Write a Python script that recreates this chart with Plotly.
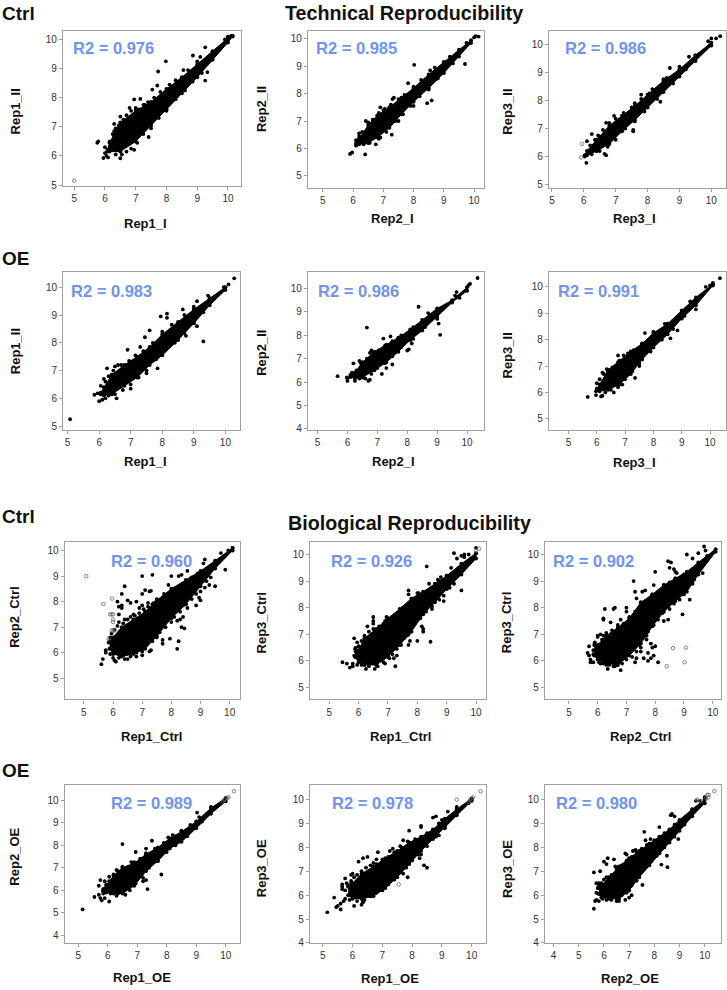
import plotly.graph_objects as go

W, H = 727, 990
FONT = "Liberation Sans"

x_labels = ["Rep1_I", "Rep2_I", "Rep3_I", "Rep1_I", "Rep2_I", "Rep3_I",
            "Rep1_Ctrl", "Rep1_Ctrl", "Rep2_Ctrl", "Rep1_OE", "Rep1_OE", "Rep2_OE"]
y_labels = ["Rep1_II", "Rep2_II", "Rep3_II", "Rep1_II", "Rep2_II", "Rep3_II",
            "Rep2_Ctrl", "Rep3_Ctrl", "Rep3_Ctrl", "Rep2_OE", "Rep3_OE", "Rep3_OE"]
r2_values = ["0.976", "0.985", "0.986", "0.983", "0.986", "0.991",
             "0.960", "0.926", "0.902", "0.989", "0.978", "0.980"]

# Dense core of each scatter: upper/lower limit of the black mass at stations along x
core_x = [
    [6.08, 6.15, 6.5, 7, 7.5, 8, 8.5, 9, 9.5, 10, 10.15],
    [6.1, 6.2, 6.5, 6.8, 7.2, 7.6, 8, 8.5, 9, 9.5, 9.9],
    [6.03, 6.1, 6.4, 6.8, 7.2, 7.6, 8, 8.5, 9, 9.5, 10],
    [6.05, 6.15, 6.4, 6.8, 7.2, 7.6, 8, 8.5, 9, 9.5, 10],
    [6.1, 6.25, 6.5, 6.9, 7.3, 7.7, 8.1, 8.5, 9, 9.5, 10],
    [6.02, 6.1, 6.4, 6.8, 7.2, 7.6, 8, 8.5, 9, 9.5, 10.1],
    [5.88, 6.0, 6.3, 6.7, 7.1, 7.5, 8, 8.5, 9, 9.5, 10.1],
    [5.88, 6.0, 6.2, 6.6, 7, 7.4, 7.8, 8.2, 8.6, 9, 9.5, 10],
    [5.88, 6.0, 6.3, 6.7, 7.1, 7.5, 7.9, 8.3, 8.7, 9.1, 9.5, 10.1],
    [5.85, 5.95, 6.2, 6.5, 6.9, 7.3, 7.7, 8.1, 8.5, 9, 9.5, 10],
    [5.85, 6.0, 6.3, 6.7, 7.1, 7.5, 7.9, 8.3, 8.7, 9.1, 9.5, 10],
    [5.8, 5.9, 6.2, 6.6, 7, 7.4, 7.8, 8.2, 8.6, 9, 9.5, 10],
]
core_hi = [
    [6.2, 6.45, 7.15, 7.55, 7.85, 8.3, 8.7, 9.15, 9.6, 10.05, 10.12],
    [6.2, 6.35, 6.85, 7.2, 7.5, 7.85, 8.2, 8.7, 9.15, 9.6, 9.95],
    [6.05, 6.2, 6.6, 7.1, 7.45, 7.8, 8.2, 8.7, 9.1, 9.6, 10.05],
    [6.2, 6.4, 6.85, 7.2, 7.5, 7.85, 8.3, 8.75, 9.2, 9.6, 10.0],
    [6.3, 6.4, 6.85, 7.3, 7.6, 7.9, 8.25, 8.65, 9.15, 9.5, 10.05],
    [6.12, 6.3, 6.85, 7.2, 7.55, 7.85, 8.25, 8.6, 9.1, 9.6, 10.1],
    [6.45, 6.6, 7.0, 7.3, 7.6, 8.05, 8.5, 8.85, 9.2, 9.6, 10.1],
    [6.45, 6.4, 6.85, 7.2, 7.6, 7.95, 8.35, 8.6, 8.9, 9.2, 9.65, 10.05],
    [6.6, 6.6, 6.95, 7.25, 7.6, 8.2, 8.5, 8.85, 9.1, 9.35, 9.7, 10.2],
    [6.05, 6.2, 6.65, 7.0, 7.2, 7.6, 7.9, 8.3, 8.6, 9.05, 9.65, 10.1],
    [6.35, 6.5, 6.9, 7.2, 7.55, 7.85, 8.2, 8.45, 8.75, 9.2, 9.6, 10.05],
    [6.3, 6.4, 6.75, 7.2, 7.55, 7.85, 8.15, 8.45, 8.75, 9.15, 9.6, 10.0],
]
core_lo = [
    [6.15, 6.15, 6.15, 6.5, 7.05, 7.6, 8.15, 8.7, 9.3, 9.9, 10.1],
    [6.12, 6.15, 6.2, 6.4, 6.75, 7.25, 7.7, 8.2, 8.75, 9.35, 9.85],
    [6.0, 6.05, 6.2, 6.45, 6.9, 7.3, 7.75, 8.3, 8.85, 9.4, 9.95],
    [6.15, 6.1, 6.15, 6.45, 6.75, 7.2, 7.55, 8.1, 8.7, 9.35, 9.9],
    [6.22, 6.15, 6.2, 6.5, 6.85, 7.3, 7.8, 8.2, 8.8, 9.4, 9.9],
    [6.08, 6.05, 6.1, 6.3, 6.7, 7.25, 7.7, 8.2, 8.8, 9.3, 10.05],
    [6.15, 5.95, 5.85, 5.95, 6.15, 6.65, 7.35, 7.9, 8.6, 9.3, 10.0],
    [6.15, 5.95, 5.85, 5.85, 6.15, 6.6, 7.1, 7.75, 8.2, 8.7, 9.25, 9.85],
    [6.2, 6.05, 5.9, 5.85, 6.2, 6.65, 7.3, 7.85, 8.25, 8.6, 9.25, 10.1],
    [5.95, 5.9, 5.85, 5.85, 6.2, 6.85, 7.3, 7.85, 8.15, 8.75, 9.4, 9.95],
    [6.0, 5.85, 5.85, 5.95, 6.3, 6.75, 7.3, 7.85, 8.35, 8.85, 9.35, 9.95],
    [6.05, 5.9, 5.85, 5.85, 6.2, 6.75, 7.25, 7.75, 8.2, 8.7, 9.3, 9.85],
]

# Individually visible points, (x, y)
points = [
    [(5.75,6.45),(5.78,6.5),(5.95,5.93),(6.0,6.1),(6.05,6.0),(6.1,5.95),(6.0,6.3),(6.15,6.5),(6.3,6.85),(6.5,7.35),
     (6.3,7.1),(6.5,5.92),(6.95,6.21),(7.42,6.65),(6.95,7.94),(7.15,7.96),(7.54,8.28),(7.73,8.9),(7.98,9.25),(7.7,8.42),
     (8.86,9.45),(9.26,8.59),(9.33,8.88),(9.26,9.73),(9.1,9.4),(8.55,8.95),(7.3,7.75),(6.8,7.65),(10.0,10.1),(10.1,10.12),(9.9,10.0)],
    [(5.9,5.8),(5.97,5.85),(6.4,5.78),(6.1,6.1),(6.1,6.3),(6.2,6.55),(6.42,7.0),(6.6,6.9),(6.75,6.15),(7.28,6.5),
     (6.9,6.4),(6.9,7.5),(7.0,7.4),(7.35,7.85),(7.3,7.8),(7.82,8.38),(8.02,9.05),(8.45,7.65),(8.6,7.75),(8.55,8.85),
     (9.7,9.08),(9.75,9.85),(10.0,10.05),(10.15,10.08),(10.05,10.1),(7.5,7.0),(8.0,7.55)],
    [(6.08,5.78),(6.1,6.55),(6.25,6.8),(6.4,6.2),(6.65,6.1),(6.7,6.05),(6.7,7.2),(6.95,7.45),(7.55,6.9),(7.55,6.95),
     (8.4,7.95),(8.05,8.25),(8.5,8.75),(8.7,9.15),(9.0,9.2),(9.3,9.55),(9.9,10.1),(10.0,10.2),(10.15,10.2),(10.28,10.28),
     (9.95,9.95),(7.6,7.9),(7.8,8.2)],
    [(5.08,5.25),(5.85,6.13),(5.95,6.18),(6.0,5.9),(6.1,5.95),(6.2,6.0),(6.05,6.45),(6.15,6.7),(6.25,7.08),(6.5,7.15),
     (6.6,7.2),(6.55,6.0),(6.9,7.75),(7.3,7.85),(7.45,8.2),(7.6,8.45),(7.95,8.95),(8.15,9.05),(8.15,8.9),(8.65,9.2),
     (9.3,8.05),(9.1,8.6),(8.75,8.25),(7.85,7.08),(9.1,9.5),(9.45,9.7),(10.1,10.1),(10.28,10.32),(9.95,10.0),(7.5,6.9),(7.0,6.35)],
    [(5.67,6.25),(5.98,6.2),(6.0,6.05),(6.0,6.15),(6.25,6.05),(6.15,6.4),(6.2,6.8),(6.4,6.9),(6.65,8.33),(6.7,6.05),
     (6.75,6.1),(6.6,6.15),(7.15,6.35),(7.5,6.75),(7.2,7.86),(7.44,7.95),(8.38,9.22),(9.05,8.5),(9.1,8.02),(8.0,7.35),
     (8.05,7.4),(8.15,7.65),(9.65,9.85),(9.6,9.7),(9.75,9.6),(10.1,10.2),(10.05,10.15),(10.35,10.45),(7.3,6.6),(6.8,7.35),(6.75,7.25)],
    [(5.68,5.83),(5.97,5.9),(6.0,6.15),(5.97,6.05),(6.0,6.35),(6.15,5.85),(6.2,5.88),(6.2,6.75),(6.35,6.88),(6.6,6.0),
     (6.9,6.3),(6.95,7.4),(6.75,7.4),(7.1,7.48),(7.7,8.25),(8.85,8.35),(8.6,8.05),(9.5,9.15),(9.3,9.45),(9.7,9.65),
     (10,10.05),(9.85,10.0),(10.1,10.15),(10.35,10.33),(7.35,6.55),(7.1,6.7),(7.5,7.0)],
    [(5.6,5.55),(5.65,5.75),(5.75,6.0),(5.75,6.1),(5.9,5.95),(6.1,5.65),(6.05,5.7),(6.4,5.75),(6.5,5.75),(6.8,5.85),
     (7.0,5.9),(7.0,6.05),(7.25,6.05),(7.3,6.1),(7.7,6.35),(7.7,6.5),(7.95,6.55),(8.2,6.15),(8.25,6.45),(8.45,6.95),
     (8.35,7.0),(8.2,7.25),(8.3,7.3),(8.4,7.4),(6.4,8.6),(6.3,8.3),(6.15,8.0),(6.2,7.8),(6.3,7.85),(6.5,8.05),
     (6.6,7.95),(6.7,7.5),(6.4,7.3),(6.2,7.5),(6.3,7.75),(6.8,8.0),(7.0,9.0),(7.35,9.05),(7.0,8.3),(7.1,8.45),
     (7.25,8.4),(7.3,8.42),(7.2,7.95),(7.35,7.9),(7.0,7.85),(6.9,7.75),(7.5,8.1),(7.75,8.3),(7.9,8.65),(8.0,9.0),
     (8.25,9.0),(8.35,9.05),(8.55,9.2),(9.15,9.65),(9.5,8.6),(9.3,8.65),(9.2,8.8),(9.85,9.25),(9.0,8.05),(8.85,7.85),
     (8.95,8.15),(9.1,9.5),(9.7,9.9),(9.95,10),(10.1,10.1)],
    [(5.45,5.95),(5.6,5.9),(5.7,5.75),(5.8,5.8),(5.8,5.9),(5.95,5.85),(6.25,5.7),(6.55,5.7),(7.25,5.8),(6.9,5.9),
     (7.2,6.1),(7.3,6.2),(7.7,6.6),(7.75,6.75),(8.0,6.75),(8.45,6.72),(8.2,7.1),(8.2,7.2),(8.15,7.3),(7.65,6.95),
     (5.85,6.85),(5.95,6.7),(5.9,6.5),(6.3,7.3),(6.5,7.65),(6.5,7.5),(6.5,7.4),(6.9,7.5),(6.95,7.65),(7.0,7.5),
     (7.2,7.65),(7.7,8.65),(7.7,8.5),(7.9,8.2),(8.0,8.55),(8.05,8.55),(8.32,9.55),(8.4,8.9),(8.7,9.05),(8.8,9.15),
     (9.0,9.2),(9.15,9.5),(9.25,10.05),(9.15,9.25),(9.35,9.85),(9.5,9.95),(9.6,10.0),(9.6,9.9),(9.75,10.0),(10,10.25),
     (9.5,8.65),(9.25,8.9),(8.9,8.25),(8.9,8.45),(8.5,7.95)],
    [(5.65,6.3),(5.7,6.55),(5.7,6.2),(5.75,6.05),(5.75,5.95),(5.85,5.95),(5.85,6.25),(6.1,5.9),(6.2,5.9),(6.4,5.85),
     (6.35,5.7),(6.8,5.65),(6.6,5.8),(7.3,5.95),(7.35,6.1),(7.5,6.35),(7.6,6.1),(7.75,6.0),(7.85,6.1),(8.1,5.95),
     (7.95,6.2),(7.75,6.3),(7.9,6.5),(8.0,6.55),(7.85,6.65),(7.7,6.8),(7.5,6.5),(7.7,6.95),(6.1,7.0),(6.2,6.95),
     (6.0,6.9),(6.25,7.95),(6.2,7.6),(6.2,7.55),(6.45,7.45),(6.6,8.0),(6.55,7.95),(6.8,7.55),(7.0,8.0),(7.0,7.85),
     (7.25,9.0),(7.3,8.6),(7.55,8.6),(7.65,8.65),(7.35,8.35),(7.4,7.9),(7.95,8.85),(8.0,9.35),(8.45,9.75),(8.55,9.7),
     (8.5,9.5),(8.7,9.35),(8.75,9.3),(8.65,9.45),(9.1,10.0),(9.5,10.05),(9.3,9.85),(9.7,10.3),(9.8,9.95),(9.75,10.15),
     (9.2,8.3),(8.95,7.75),(8.3,7.5),(8.45,7.55),(9.65,9.3),(9.35,9.05)],
    [(5.15,5.15),(5.55,5.7),(5.7,5.8),(5.75,5.65),(5.8,5.55),(5.9,5.65),(5.85,5.85),(5.85,6.0),(6.05,5.5),(6.3,5.75),
     (5.7,6.2),(5.75,6.45),(5.9,6.4),(6.05,6.6),(6.3,6.9),(6.5,8.05),(6.95,7.7),(6.8,7.25),(7.3,7.85),(7.5,8.2),
     (7.35,6.05),(7.3,6.45),(7.2,6.4),(7.2,6.55),(7.82,6.7),(8.05,8.35),(8.5,8.65),(9.03,9.45),(9.1,9.25),(9.5,9.7),(8.2,8.45)],
    [(5.15,5.28),(5.38,5.9),(5.45,5.5),(5.5,5.55),(5.6,5.4),(5.6,5.65),(5.7,5.75),(5.75,5.85),(5.65,6.45),(5.65,6.35),
     (5.65,6.25),(5.8,6.5),(5.75,6.7),(5.95,6.5),(6.05,5.55),(6.3,5.6),(6.35,5.75),(6.35,5.7),(5.95,6.85),(6.0,6.9),
     (6.2,7.4),(6.35,7.55),(6.5,7.6),(6.7,7.35),(6.8,7.5),(6.85,7.8),(7.25,7.85),(7.35,7.95),(7.6,8.05),(7.7,8.3),
     (7.9,8.7),(8.3,8.9),(8.3,8.85),(7.7,6.9),(7.85,6.75),(7.4,6.95),(7.15,6.75),(8.25,7.55),(8.4,7.25),(8.5,7.15),
     (8.3,7.7),(9.0,9.15),(8.7,9.25),(8.8,9.3),(9.2,9.5),(9.5,9.7),(9.9,9.85),(10.0,10.0),(8.9,8.5)],
    [(5.6,5.43),(5.65,5.75),(5.7,5.8),(5.8,5.75),(5.6,6.95),(5.8,6.5),(5.85,7.0),(5.7,6.5),(5.75,6.3),(5.7,6.1),
     (6.0,7.4),(6.15,7.55),(6.1,7.3),(6.4,7.5),(6.45,7.2),(6.9,7.7),(6.85,7.75),(7.15,7.85),(7.25,7.9),(7.6,8.65),
     (7.65,8.3),(7.85,8.35),(8.2,8.85),(8.7,9.4),(8.65,9.35),(8.8,9.3),(8.95,8.35),(8.52,7.17),(8.28,7.28),(8.5,7.65),
     (7.53,6.43),(7.1,6.0),(6.5,5.75),(6.6,5.75),(6.85,5.8),(7.0,5.9),(9.65,9.95),(10.0,10.1),(9.8,9.95)],
]

# Points hugging the edge of the dense core, (x, y)
edge_points = [
    [(6.25,6.75),(6.3,6.65),(6.35,6.95),(6.45,7.05),(6.6,7.25),(6.7,7.4),(6.85,7.55),(7.0,7.65),(7.1,7.6),(7.25,7.75),(7.4,7.85),(7.6,8.0),(7.8,8.2),(8.1,8.45),(8.3,8.6),(8.7,8.95),(9.0,9.25),(6.35,6.05),(6.55,6.05),(6.7,6.15),(6.85,6.25),(7.05,6.45),(7.25,6.75),(7.5,6.95),(7.75,7.3),(8.0,7.55),(8.3,7.95),(8.6,8.25),(8.85,8.55),(9.15,8.85),(9.4,9.25)],
    [(6.2,6.45),(6.3,6.6),(6.5,6.95),(6.65,7.05),(6.85,7.3),(7.05,7.45),(7.25,7.6),(7.5,7.8),(7.7,7.95),(8.0,8.25),(8.25,8.5),(8.7,8.95),(9.2,9.35),(6.35,6.15),(6.55,6.2),(6.85,6.35),(7.1,6.6),(7.4,7.0),(7.65,7.25),(7.9,7.55),(8.2,7.9),(8.5,8.15),(8.8,8.55),(9.3,9.1)],
    [(6.2,6.4),(6.35,6.6),(6.45,6.75),(6.6,6.95),(6.8,7.2),(7.0,7.35),(7.25,7.55),(7.5,7.75),(7.8,8.05),(8.15,8.4),(8.6,8.8),(6.25,6.08),(6.5,6.2),(6.75,6.35),(7.0,6.6),(7.3,7.0),(7.6,7.25),(7.9,7.6),(8.3,8.05),(8.8,8.6),(9.2,9.1)],
    [(6.2,6.6),(6.3,6.8),(6.45,7.0),(6.7,7.2),(6.95,7.35),(7.15,7.55),(7.4,7.7),(7.7,8.0),(8.0,8.4),(8.3,8.65),(8.7,9.0),(9.0,9.3),(6.3,6.1),(6.5,6.15),(6.75,6.3),(7.0,6.5),(7.25,6.75),(7.5,7.0),(7.8,7.4),(8.1,7.75),(8.4,8.0),(8.7,8.35),(9.0,8.7),(9.3,9.1)],
    [(6.3,6.5),(6.45,6.8),(6.65,7.0),(6.85,7.2),(7.05,7.35),(7.25,7.55),(7.5,7.75),(7.8,8.0),(8.2,8.35),(8.7,8.95),(6.4,6.15),(6.55,6.2),(6.8,6.35),(7.0,6.6),(7.25,6.8),(7.5,7.1),(7.8,7.5),(8.2,7.85),(8.6,8.35),(9.0,8.7)],
    [(6.1,6.5),(6.25,6.7),(6.4,6.8),(6.55,6.95),(6.75,7.15),(7.0,7.3),(7.3,7.6),(7.6,7.85),(8.0,8.3),(8.4,8.6),(6.3,6.0),(6.5,6.1),(6.75,6.2),(7.0,6.5),(7.25,6.8),(7.5,7.1),(7.9,7.55),(8.3,8.0),(8.7,8.4),(9.1,8.9)],
    [(5.85,6.4),(5.9,6.6),(5.95,6.75),(6.05,6.9),(6.15,7.05),(6.2,7.2),(6.35,7.15),(6.5,7.3),(6.6,7.4),(6.75,7.45),(6.9,7.55),(7.05,7.7),(7.2,7.8),(7.4,7.95),(7.6,8.05),(7.75,8.15),(7.95,8.3),(8.15,8.5),(8.3,8.55),(8.5,8.75),(8.7,8.95),(8.9,9.1),(6.0,5.8),(6.2,5.8),(6.35,5.9),(6.6,5.85),(6.8,6.0),(7.0,6.2),(7.15,6.35),(7.35,6.45),(7.5,6.6),(7.6,6.8),(7.8,7.0),(8.0,7.2),(8.1,7.4),(8.3,7.6),(8.4,7.85),(8.55,7.75),(8.7,8.1),(8.85,8.3),(9.0,8.4),(9.15,8.55),(9.35,8.95)],
    [(5.85,6.2),(5.9,6.35),(6.0,6.55),(6.1,6.75),(6.2,6.95),(6.35,7.1),(6.5,7.2),(6.7,7.3),(6.85,7.4),(7.1,7.55),(7.3,7.75),(7.5,8.0),(7.7,8.1),(7.85,8.25),(8.05,8.35),(8.3,8.6),(8.5,8.75),(8.75,9.0),(6.1,5.85),(6.35,5.8),(6.65,5.8),(6.85,5.95),(7.05,6.1),(7.15,6.25),(7.3,6.45),(7.45,6.6),(7.55,6.85),(7.7,7.0),(7.85,7.3),(7.95,7.5),(8.1,7.6),(8.3,7.85),(8.5,8.05),(8.75,8.3),(9.1,8.75)],
    [(5.85,6.4),(5.9,6.7),(6.0,6.95),(6.15,6.8),(6.3,7.05),(6.5,7.15),(6.7,7.35),(6.9,7.4),(7.1,7.65),(7.3,7.85),(7.5,8.15),(7.7,8.25),(7.9,8.5),(8.1,8.6),(8.3,8.85),(8.5,8.95),(8.7,9.1),(9.0,9.25),(6.05,5.95),(6.3,5.85),(6.55,5.8),(6.85,5.9),(7.0,6.05),(7.2,6.15),(7.35,6.35),(7.45,6.6),(7.6,6.9),(7.75,7.1),(7.95,7.35),(8.1,7.55),(8.25,7.8),(8.5,7.95),(8.65,8.15),(8.85,8.3),(9.0,8.5),(9.3,8.9)],
    [(5.95,6.25),(6.05,6.4),(6.2,6.7),(6.35,6.85),(6.5,7.05),(6.7,7.05),(6.9,7.25),(7.1,7.4),(7.3,7.65),(7.6,7.85),(7.9,8.1),(8.3,8.4),(8.8,8.9),(6.1,5.85),(6.35,5.85),(6.6,5.8),(6.75,6.0),(6.95,6.3),(7.15,6.65),(7.4,7.0),(7.7,7.3),(8.0,7.7),(8.3,8.0),(8.7,8.4),(9.2,9.05)],
    [(5.75,6.2),(5.85,6.4),(5.95,6.6),(6.05,6.75),(6.15,6.85),(6.3,7.0),(6.45,7.15),(6.6,7.25),(6.8,7.3),(7.0,7.5),(7.2,7.6),(7.4,7.8),(7.65,8.0),(7.85,8.25),(8.1,8.35),(8.5,8.6),(8.9,9.0),(5.9,5.8),(6.15,5.75),(6.4,5.8),(6.6,5.95),(6.8,6.1),(7.0,6.2),(7.2,6.45),(7.4,6.65),(7.6,6.95),(7.8,7.15),(8.0,7.45),(8.2,7.7),(8.5,8.05),(8.8,8.45),(9.1,8.8)],
    [(5.8,6.4),(5.9,6.5),(6.0,6.65),(6.1,6.75),(6.3,6.85),(6.5,7.1),(6.7,7.25),(6.9,7.45),(7.1,7.6),(7.3,7.8),(7.5,7.95),(7.7,8.1),(8.0,8.3),(8.4,8.6),(8.8,8.95),(5.95,5.85),(6.1,5.8),(6.3,5.8),(6.5,5.85),(6.7,6.0),(6.9,6.1),(7.1,6.4),(7.3,6.6),(7.5,7.0),(7.7,7.2),(7.9,7.45),(8.1,7.65),(8.4,8.0),(8.8,8.45),(9.2,8.95)],
]

# Points drawn as open circles, (x, y)
open_points = [
    [(5.0,5.15)],
    [],
    [(5.95,6.45),(5.92,5.97)],
    [],
    [],
    [],
    [(5.08,9.0),(5.67,7.9),(5.97,8.12),(5.9,7.5),(5.95,7.5),(6.0,7.5),(6.0,7.3),(6.0,7.2),(5.95,6.87),(6.0,6.87),(6.05,6.87),(5.85,6.55)],
    [(10.1,10.22),(10.0,10.15)],
    [(8.4,5.8),(8.62,6.48),(9.07,6.5),(9.02,5.95)],
    [(10.28,10.4),(10.05,10.1),(10.1,10.13),(9.95,10.02),(9.9,9.95)],
    [(7.55,6.45),(10.3,10.35),(9.5,10.0),(10.05,10.1),(9.95,10.0),(9.9,9.9)],
    [(10.38,10.35),(10.1,10.2),(10.15,10.1),(10.05,10.05),(10.15,10.2),(9.7,10.0),(9.85,9.95)],
]

# Layout: box (left, right, top, bottom px); x tick calibration (value, px, value, px); y likewise
boxes = [
    (63, 241, 31, 187), (308.3, 485, 31, 189), (549.7, 726.7, 30.7, 189.3),
    (63.3, 240.7, 273.3, 432), (308.3, 485, 273.3, 432), (549.7, 726.7, 273.3, 432),
    (64.7, 240, 544.3, 703), (310.3, 487, 544.3, 703), (545.7, 722.3, 544.3, 703),
    (64.7, 240, 789.3, 948), (310.3, 487, 789.3, 948), (545.7, 722.3, 789.3, 948),
]
x_cal = [
    (5, 74.3, 10, 228.3), (5, 323.3, 10, 474.7), (5, 552.7, 10, 712.3),
    (5, 67.7, 10, 225.7), (5, 318, 10, 467.7), (5, 569.3, 10, 711),
    (5, 84, 10, 230), (5, 329.7, 10, 476.7), (5, 569.7, 10, 713.7),
    (5, 78.3, 10, 226), (5, 323.3, 10, 472.3), (4, 554.3, 10, 705.7),
]
y_cal = [
    (5, 186, 10, 39.7), (5, 176.7, 10, 39), (5, 185.7, 10, 44.3),
    (5, 428.3, 10, 288.7), (4, 431, 10, 290), (5, 421, 10, 288.3),
    (5, 681.7, 10, 553.3), (5, 691, 10, 557.3), (5, 691, 10, 557.3),
    (4, 940, 10, 804.3), (4, 947.7, 10, 803.7), (4, 947.7, 10, 803.7),
]
xtitle_pos = [(146,225),(393,220),(635,220),(146,464),(394,464),(635,465),
              (152,740),(401,740),(641,740),(142,982),(391,983),(631,983)]
ytitle_pos = [(15,112),(262,110),(508,112),(15,353),(262,355),(508,357),
              (15,620),(262,626),(508,626),(15,861),(262,873),(508,873)]
r2_pos = [(114,48),(357,48),(606,48),(112,292),(359,292),(599,292),
          (152,564),(372,564),(594,564),(152,807),(373,807),(597,807)]

section_titles = [("Technical Reproducibility", 405, 13), ("Biological Reproducibility", 410, 526)]
row_labels = [("Ctrl", 14), ("OE", 260), ("Ctrl", 519), ("OE", 774)]


def px_ann(text, x, y, size, color="#111", angle=0, xanchor="center"):
    return dict(text=text, x=x / W, y=1 - y / H, xref="paper", yref="paper",
                xanchor=xanchor, yanchor="middle", showarrow=False, textangle=angle,
                font=dict(family=FONT, size=size, color=color, weight=700))


fig = go.Figure()
annotations = []
layout_axes = {}

for i in range(12):
    n = "" if i == 0 else str(i + 1)
    l, r, t, b = boxes[i]
    v0, p0, v1, p1 = x_cal[i]
    sx = (p1 - p0) / (v1 - v0)
    xr = [v0 + (l - p0) / sx, v0 + (r - p0) / sx]
    v0y, q0, v1y, q1 = y_cal[i]
    sy = (q0 - q1) / (v1y - v0y)
    yr = [v0y - (b - q0) / sy, v0y + (q0 - t) / sy]

    common = dict(showline=True, mirror=True, linecolor="#a0a0a0", linewidth=1.2,
                  showgrid=False, zeroline=False, ticks="outside", ticklen=3,
                  tickcolor="#a0a0a0", tickwidth=1,
                  tickfont=dict(family=FONT, size=10, color="#333"))
    layout_axes[f"xaxis{n}"] = dict(common, domain=[l / W, r / W], range=xr, anchor=f"y{n}",
                                    tickvals=list(range(int(v0), 11)))
    layout_axes[f"yaxis{n}"] = dict(common, domain=[1 - b / H, 1 - t / H], range=yr, anchor=f"x{n}",
                                    tickvals=list(range(int(v0y), 11)))

    cx, hi, lo = core_x[i], core_hi[i], core_lo[i]
    fig.add_trace(go.Scatter(x=cx + cx[::-1], y=hi + lo[::-1], xaxis=f"x{n}", yaxis=f"y{n}",
                             mode="lines+markers", fill="toself", fillcolor="#000",
                             line=dict(color="#000", width=1), marker=dict(color="#000", size=4),
                             showlegend=False, hoverinfo="skip"))
    dots = points[i] + edge_points[i]
    fig.add_trace(go.Scatter(x=[p[0] for p in dots], y=[p[1] for p in dots],
                             xaxis=f"x{n}", yaxis=f"y{n}", mode="markers",
                             marker=dict(color="#000", size=3.8), showlegend=False))
    if open_points[i]:
        fig.add_trace(go.Scatter(x=[p[0] for p in open_points[i]], y=[p[1] for p in open_points[i]],
                                 xaxis=f"x{n}", yaxis=f"y{n}", mode="markers",
                                 marker=dict(symbol="circle-open", color="#666", size=3.5,
                                             line=dict(width=0.8, color="#666")),
                                 showlegend=False))

    annotations.append(px_ann(x_labels[i], *xtitle_pos[i], 13))
    annotations.append(px_ann(y_labels[i], *ytitle_pos[i], 13, angle=-90))
    annotations.append(px_ann("R2 = " + r2_values[i], *r2_pos[i], 16.5, color="#6f94f0"))

for text, x, y in section_titles:
    annotations.append(px_ann(text, x, y, 19.7))
for text, y in row_labels:
    annotations.append(px_ann(text, 0, y, 19, xanchor="left"))

fig.update_layout(width=W, height=H, margin=dict(l=0, r=0, t=0, b=0),
                  paper_bgcolor="white", plot_bgcolor="white", showlegend=False,
                  annotations=annotations, **layout_axes)

fig.write_html("out.html", config={"displayModeBar": False},
               post_script="document.body.style.margin='0';document.body.style.overflow='hidden';")
